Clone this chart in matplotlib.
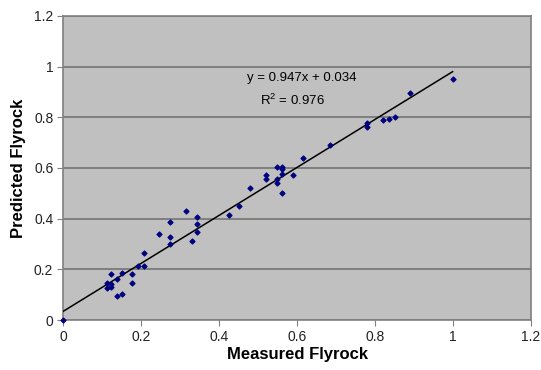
import matplotlib.pyplot as plt
import numpy as np
from matplotlib.ticker import FuncFormatter

plt.rcParams['font.family'] = ['Liberation Sans', 'DejaVu Sans']

# measured vs predicted flyrock
measured = [0.0, 0.112, 0.112, 0.124, 0.124, 0.124, 0.138, 0.138, 0.150, 0.150,
            0.178, 0.178, 0.192, 0.207, 0.207, 0.247, 0.274, 0.274, 0.274, 0.315,
            0.330, 0.343, 0.343, 0.343, 0.426, 0.452, 0.479, 0.521, 0.521, 0.549,
            0.549, 0.549, 0.562, 0.562, 0.562, 0.562, 0.590, 0.616, 0.685, 0.780,
            0.780, 0.821, 0.835, 0.850, 0.891, 0.999]
predicted = [0.0, 0.145, 0.125, 0.183, 0.142, 0.130, 0.161, 0.096, 0.184, 0.101,
             0.183, 0.145, 0.213, 0.263, 0.213, 0.340, 0.386, 0.327, 0.299, 0.431,
             0.311, 0.405, 0.379, 0.349, 0.413, 0.451, 0.521, 0.572, 0.558, 0.603,
             0.558, 0.542, 0.603, 0.595, 0.575, 0.501, 0.574, 0.640, 0.692, 0.776,
             0.761, 0.791, 0.794, 0.801, 0.895, 0.953]

slope = 0.947
intercept = 0.034
r2 = 0.976

fig = plt.figure(figsize=(5.41, 3.70), dpi=100)
ax = fig.add_axes([0.1165, 0.135, 0.865, 0.822])
ax.set_facecolor('#c0c0c0')

xs = np.array([0, max(measured)])
ax.plot(xs, slope * xs + intercept, color='black', lw=1.1, zorder=3)
ax.scatter(measured, predicted, marker='D', s=6, color='#000080', zorder=4,
           clip_on=False)

ax.set_xlim(0, 1.2)
ax.set_ylim(0, 1.2)
ticks = [0, 0.2, 0.4, 0.6, 0.8, 1.0, 1.2]
ax.set_xticks(ticks)
ax.set_yticks(ticks)
fmt = FuncFormatter(lambda v, p: '%g' % round(v, 2))
ax.xaxis.set_major_formatter(fmt)
ax.yaxis.set_major_formatter(fmt)
ax.grid(axis='y', color='#7a7a7a', lw=1.3)
ax.set_axisbelow(True)
for s in ax.spines.values():
    s.set_color('#808080')
    s.set_linewidth(1.2)
ax.tick_params(direction='out', length=4, color='#808080', labelsize=10,
               labelcolor='#222222', pad=3)

ax.set_xlabel('Measured Flyrock', fontsize=12, fontweight='bold', labelpad=2)
ax.set_ylabel('Predicted Flyrock', fontsize=12, fontweight='bold', labelpad=6)

ax.text(0.612, 0.955, 'y = 0.947x + 0.034', ha='center', va='center', fontsize=9.5)
ax.text(0.588, 0.868, '$\\mathregular{R^2}$ = %.3f' % r2, ha='center', va='center',
        fontsize=9.5)

fig.savefig('out.png', dpi=100)
